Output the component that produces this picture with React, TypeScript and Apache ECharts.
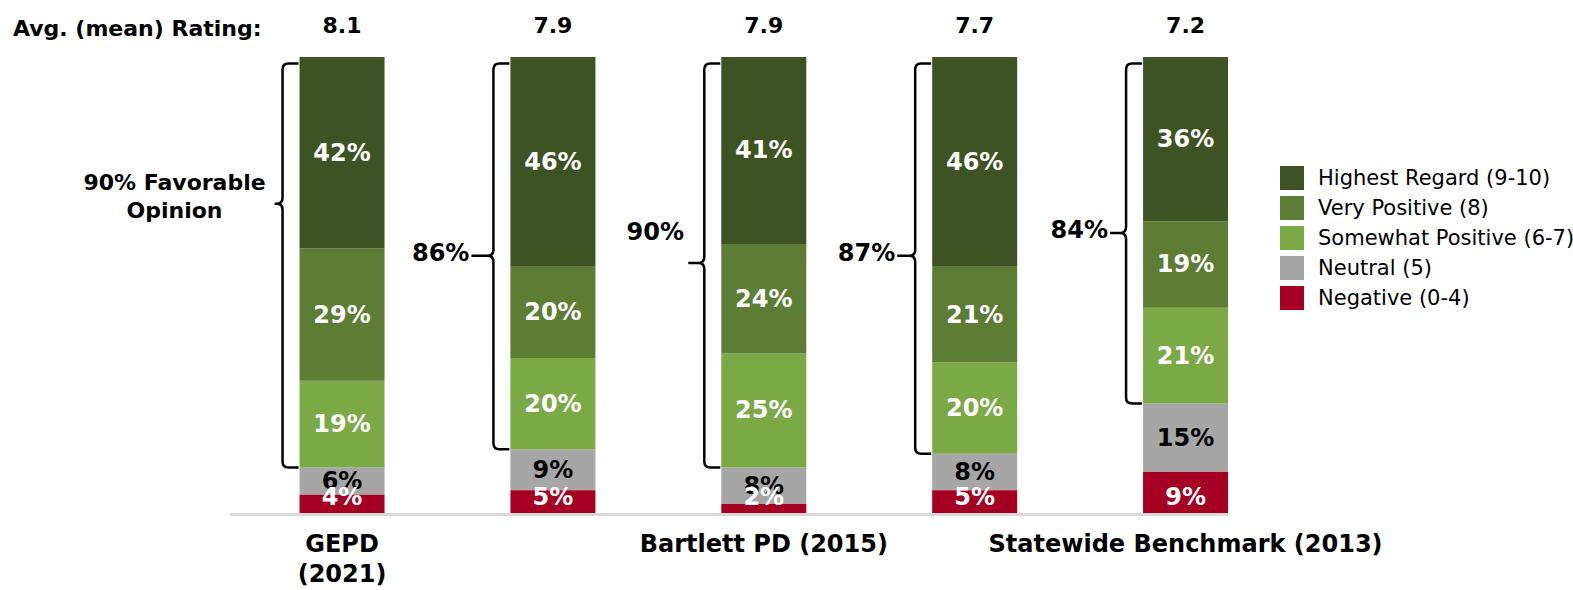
import React, { useEffect, useRef } from "react";
import * as echarts from "echarts";

// ---- data ----
const categories = ["GEPD (2021)", "", "Bartlett PD (2015)", "", "Statewide Benchmark (2013)"];
const ratings = ["8.1", "7.9", "7.9", "7.7", "7.2"];
const highestRegard = [42, 46, 41, 46, 36];
const veryPositive = [29, 20, 24, 21, 19];
const somewhatPositive = [19, 20, 25, 20, 21];
const neutral = [6, 9, 8, 8, 15];
const negative = [4, 5, 2, 5, 9];
const favorablePct = [90, 86, 90, 87, 84];
const braceTipValues = [67.8, 56.4, 54.8, 56.4, 61.4];
const braceTopValue = 98.6;

// ---- style ----
const FONT = "DejaVu Sans";
const BAR_W = 85;
const colors = {
  highest: "#3E5323",
  very: "#5B7D34",
  somewhat: "#7BA946",
  neutral: "#A6A6A6",
  negative: "#A50021",
};
const braceTipLen = [8, 22, 16, 18, 16];
const braceLabelPlacement = ["block", "left", "above", "left", "left"];

const segLabel = (color: string) => ({
  show: true,
  position: "inside",
  formatter: "{c}%",
  color,
  fontFamily: FONT,
  fontWeight: "bold",
  fontSize: 24,
});

export default function App() {
  const ref = useRef<HTMLDivElement>(null);

  useEffect(() => {
    if (!ref.current) return;
    const chart = echarts.init(ref.current, null, { renderer: "svg" });

    const braceData = categories.map((_, i) => [
      i,
      neutral[i] + negative[i],
      braceTopValue,
      braceTipValues[i],
    ]);

    const renderBrace = (params: any, api: any) => {
      const i = api.value(0);
      const cx = api.coord([i, 0])[0];
      const yBot = api.coord([i, api.value(1)])[1];
      const yTop = api.coord([i, api.value(2)])[1];
      const yTip = api.coord([i, api.value(3)])[1];
      const barL = cx - BAR_W / 2;
      const vx = barL - 17;
      const r = 6;
      const tipX = vx - Math.max(braceTipLen[i], r);
      const d =
        `M${barL - 1},${yTop} L${vx + r},${yTop} Q${vx},${yTop} ${vx},${yTop + r} ` +
        `L${vx},${yTip - r} Q${vx},${yTip} ${vx - r},${yTip} L${tipX},${yTip} ` +
        `M${vx - r},${yTip} Q${vx},${yTip} ${vx},${yTip + r} ` +
        `L${vx},${yBot - r} Q${vx},${yBot} ${vx + r},${yBot} L${barL - 1},${yBot}`;
      const p = favorablePct[i];
      const place = braceLabelPlacement[i];
      let text = `${p}%`;
      let tx = tipX - 2;
      let ty = yTip - 3;
      let align = "right";
      let fontSize = 24;
      if (place === "block") {
        text = `${p}% Favorable\nOpinion`;
        tx = tipX - 100;
        ty = yTip - 7;
        align = "center";
        fontSize = 22;
      } else if (place === "above") {
        tx = tipX - 33;
        ty = yTip - 31;
        align = "center";
      }
      return {
        type: "group",
        children: [
          {
            type: "path",
            shape: { pathData: d },
            style: { fill: "none", stroke: "#000", lineWidth: 2.5 },
          },
          {
            type: "text",
            x: tx,
            y: ty,
            style: {
              text,
              fill: "#000",
              fontFamily: FONT,
              fontWeight: "bold",
              fontSize,
              lineHeight: 28,
              align,
              verticalAlign: "middle",
            },
          },
        ],
      };
    };

    const option: any = {
      animation: false,
      backgroundColor: "#fff",
      textStyle: { fontFamily: FONT },
      grid: { left: 236.6, right: 282, top: 57, bottom: 77 },
      legend: {
        orient: "vertical",
        left: 1275,
        top: 161,
        itemWidth: 24,
        itemHeight: 24,
        itemGap: 6,
        icon: "rect",
        selectedMode: false,
        data: [
          "Highest Regard (9-10)",
          "Very Positive (8)",
          "Somewhat Positive (6-7)",
          "Neutral (5)",
          "Negative (0-4)",
        ],
        textStyle: {
          fontFamily: FONT,
          fontSize: 21,
          color: "#000",
          padding: [0, 0, 0, 9],
        },
      },
      xAxis: [
        {
          type: "category",
          data: categories,
          axisLine: { show: false },
          axisTick: { show: false },
          axisLabel: {
            interval: 1,
            margin: 16,
            fontFamily: FONT,
            fontWeight: "bold",
            fontSize: 24,
            lineHeight: 30,
            color: "#000",
            formatter: (v: string, i: number) => (i === 0 ? v.split(" ").join("\n") : v),
          },
        },
        {
          type: "category",
          position: "top",
          data: ratings,
          axisLine: { show: false },
          axisTick: { show: false },
          axisLabel: {
            margin: 21,
            fontFamily: FONT,
            fontWeight: "bold",
            fontSize: 22,
            color: "#000",
          },
        },
      ],
      yAxis: { type: "value", min: 0, max: 100, show: false },
      graphic: [
        {
          type: "text",
          left: 13,
          top: 17,
          style: {
            text: "Avg. (mean) Rating:",
            fontFamily: FONT,
            fontWeight: "bold",
            fontSize: 22,
            fill: "#000",
          },
        },
        {
          type: "line",
          shape: { x1: 230, y1: 514.5, x2: 1228, y2: 514.5 },
          style: { stroke: "#D9D9D9", lineWidth: 3 },
        },
      ],
      series: [
        {
          name: "Negative (0-4)",
          type: "bar",
          stack: "s",
          barWidth: BAR_W,
          data: negative,
          itemStyle: { color: colors.negative },
          z: 3,
          label: { ...segLabel("#fff"), position: "insideBottom", distance: 4 },
        },
        {
          name: "Neutral (5)",
          type: "bar",
          stack: "s",
          barWidth: BAR_W,
          data: neutral,
          itemStyle: { color: colors.neutral },
          label: segLabel("#000"),
        },
        {
          name: "Somewhat Positive (6-7)",
          type: "bar",
          stack: "s",
          barWidth: BAR_W,
          data: somewhatPositive,
          itemStyle: { color: colors.somewhat },
          label: segLabel("#fff"),
        },
        {
          name: "Very Positive (8)",
          type: "bar",
          stack: "s",
          barWidth: BAR_W,
          data: veryPositive,
          itemStyle: { color: colors.very },
          label: segLabel("#fff"),
        },
        {
          name: "Highest Regard (9-10)",
          type: "bar",
          stack: "s",
          barWidth: BAR_W,
          data: highestRegard,
          itemStyle: { color: colors.highest },
          label: segLabel("#fff"),
        },
        {
          name: "braces",
          type: "custom",
          coordinateSystem: "cartesian2d",
          silent: true,
          clip: false,
          z: 5,
          encode: { x: 0, y: [1, 2, 3] },
          data: braceData,
          renderItem: renderBrace,
        },
      ],
    };

    chart.setOption(option);
    return () => chart.dispose();
  }, []);

  return (
    <div
      ref={ref}
      style={{ position: "fixed", left: 0, top: 0, width: 1573, height: 590, background: "#fff" }}
    />
  );
}
